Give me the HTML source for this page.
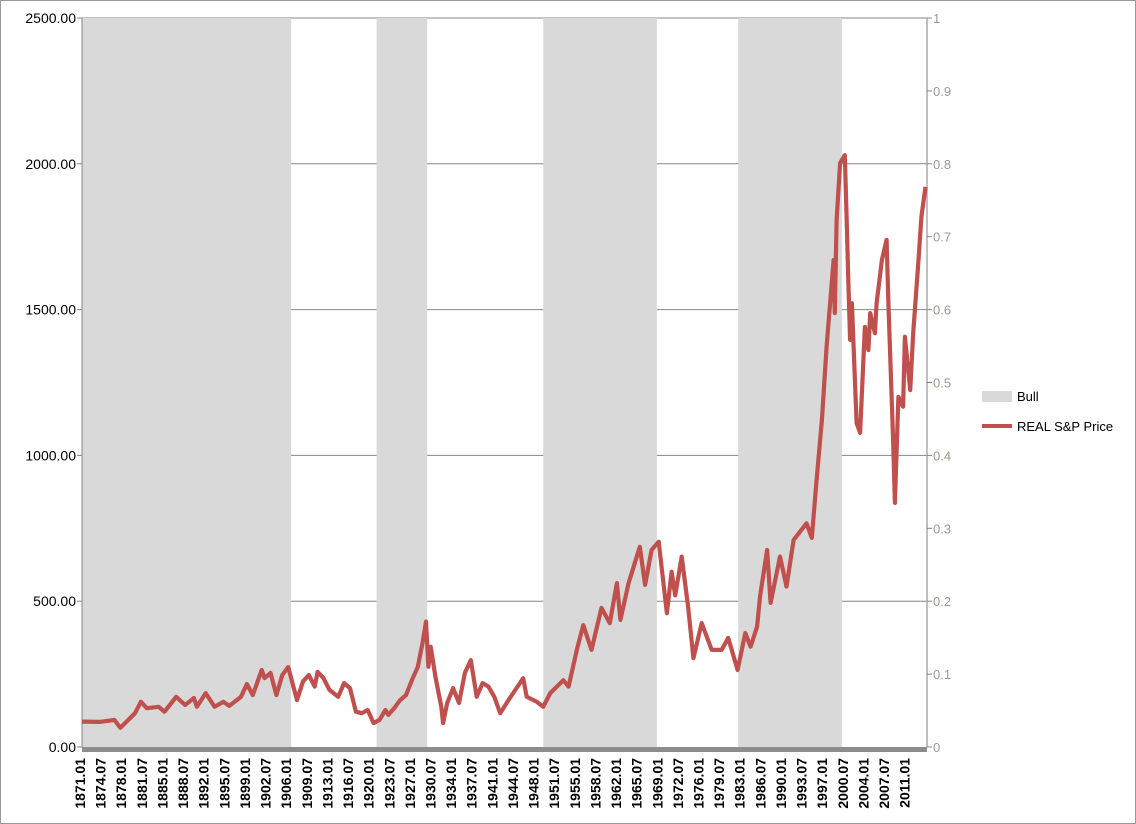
<!DOCTYPE html>
<html><head><meta charset="utf-8"><style>
html,body{margin:0;padding:0;background:#fff}
svg{display:block;font-family:"Liberation Sans",Arial,sans-serif}
</style></head><body>
<svg id="chart" width="1136" height="824" viewBox="0 0 1136 824">
<rect x="0.5" y="0.5" width="1135" height="823" fill="#fff" stroke="#999"/>
<g id="bands"></g>
<g id="grid"></g>
<g id="axes"></g>
<g id="series"></g>
<g>
 <rect x="982" y="391" width="30" height="11" fill="#d9d9d9"/>
 <text x="1017" y="401" font-size="13">Bull</text>
 <line x1="982" y1="426" x2="1012" y2="426" stroke="#c0504d" stroke-width="4"/>
 <text x="1017" y="431" font-size="13">REAL S&amp;P Price</text>
</g>
</svg>
<script>
const years=[1871,1874,1876.5,1877.5,1880,1881,1882,1884,1885,1887,1888.5,1890,1890.5,1892,1893.5,1895,1896,1898,1899,1900,1901.5,1902,1903,1904,1905,1906,1907.5,1908.5,1909.5,1910.5,1911,1912,1913,1914.5,1915.5,1916.5,1917.5,1918.5,1919.5,1920.5,1921.5,1922.5,1923,1924,1925,1926,1927,1928,1928.8,1929.4,1929.8,1930.2,1931,1932,1932.3,1933,1934,1935,1936,1937,1938,1939,1940,1941,1942,1943.4,1945.9,1946.5,1948.2,1949.3,1950.5,1952.7,1953.6,1955.0,1956.1,1957.5,1959.2,1960.6,1961.8,1962.4,1963.8,1965.7,1966.6,1967.7,1968.9,1970.3,1971.1,1971.7,1972.8,1973.9,1974.8,1976.2,1977.9,1979.6,1980.7,1982.3,1983.6,1984.5,1985.6,1986.1,1987.3,1987.9,1989.5,1990.6,1991.8,1994.0,1994.9,1995.7,1996.6,1997.4,1998.6,1998.8,1999.1,1999.7,2000.5,2000.8,2001.1,2001.4,2001.7,2002.5,2003.1,2003.9,2004.5,2004.8,2005.6,2005.9,2006.8,2007.6,2007.9,2008.7,2009.0,2009.6,2010.4,2010.7,2011.6,2012.1,2013.0,2013.5,2014.2];
const prices=[87,86,93,66,116,155,133,138,121,172,144,168,138,185,138,155,141,172,216,178,264,236,254,178,247,274,161,224,247,207,258,236,196,172,219,202,121,116,127,82,93,127,110,133,161,178,229,275,356,430,275,344,241,138,82,151,202,151,254,298,172,219,207,172,116,161,236,172,155,138,185,229,207,333,418,333,477,425,562,436,562,687,556,676,704,459,601,520,653,481,305,425,333,333,374,264,391,344,413,515,676,494,653,550,710,767,717,916,1121,1373,1670,1488,1807,2002,2030,1818,1590,1396,1522,1111,1077,1441,1361,1488,1419,1522,1670,1739,1522,1053,837,1201,1167,1407,1224,1419,1670,1818,1921];
const bullStart=[1871,1921.0,1949.3,1982.4];
const bullEnd=[1906.5,1929.6,1968.6,2000.0];
const yTicks=[0,500,1000,1500,2000,2500];
const rTicks=[0,0.1,0.2,0.3,0.4,0.5,0.6,0.7,0.8,0.9,1];
const xLabelYears=[];for(let i=0;i<=40;i++){xLabelYears.push(1871+i*3.5);}

const X0=82,X1=927,Y0=747,Y1=18,T0=1871,T1=2014.45;
const xs=t=>X0+(t-T0)/(T1-T0)*(X1-X0);
const ys=v=>Y0-v/2500*(Y0-Y1);
const yr=v=>Y0-v*(Y0-Y1);
const NS="http://www.w3.org/2000/svg";
function mk(tag,attrs,parent,txt){const e=document.createElementNS(NS,tag);for(const k in attrs)e.setAttribute(k,attrs[k]);if(txt!==undefined)e.textContent=txt;parent.appendChild(e);return e;}
const grid=document.getElementById('grid'),bands=document.getElementById('bands'),axes=document.getElementById('axes'),series=document.getElementById('series');
yTicks.forEach(v=>{if(v===0)return;const l=mk('line',{x1:X0,x2:X1,y1:ys(v),y2:ys(v),stroke:'#868686','stroke-width':1},grid);

});
document.getElementById('chart').insertBefore(grid,bands);
bullStart.forEach((s,i)=>{const r=mk('rect',{x:xs(s),y:Y1,width:xs(bullEnd[i])-xs(s),height:Y0-Y1,fill:'#d9d9d9'},bands);

});
const la=mk('line',{x1:X0,x2:X0,y1:Y1,y2:Y0,stroke:'#868686','stroke-width':1},axes);


const ra=mk('line',{x1:X1,x2:X1,y1:Y1,y2:Y0,stroke:'#aaa','stroke-width':1.5},axes);


const ba=mk('rect',{x:X0,y:Y0,width:X1-X0,height:5,fill:'#8c8c8c'},axes);


yTicks.forEach(v=>{mk('line',{x1:X0-5,x2:X0,y1:ys(v),y2:ys(v),stroke:'#868686'},axes);
const t=mk('text',{x:76,y:ys(v)+5,'text-anchor':'end','font-size':14},axes,v.toFixed(2));

});
rTicks.forEach(v=>{mk('line',{x1:X1,x2:X1+5,y1:yr(v),y2:yr(v),stroke:'#868686'},axes);
const t=mk('text',{x:933,y:yr(v)+5,'font-size':13,fill:'#9a9a8a'},axes,String(+v.toFixed(1)));

});
xLabelYears.forEach(y=>{const yy=Math.floor(y),m=(y%1)>0?'07':'01';const x=xs(y)+3;
const t=mk('text',{x:0,y:0,'text-anchor':'end','font-size':14,'font-weight':'bold',transform:`translate(${x},758) rotate(-90)`},axes,yy+'.'+m);

});
const d=years.map((t,i)=>(i?'L':'M')+xs(t).toFixed(1)+','+ys(prices[i]).toFixed(1)).join('');
const p=mk('path',{d:d,fill:'none',stroke:'#c0504d','stroke-width':4.2,'stroke-linejoin':'round'},series);


</script>
</body></html>
